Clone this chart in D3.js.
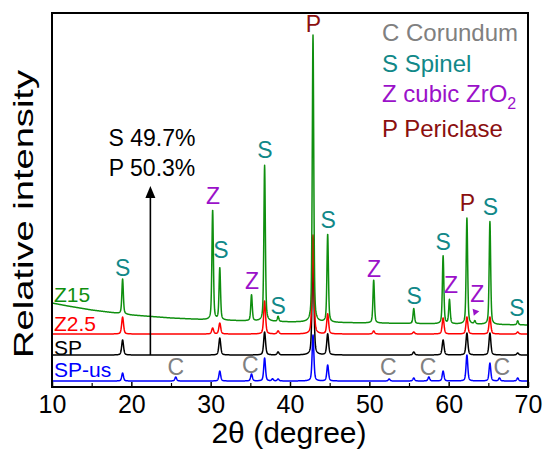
<!DOCTYPE html>
<html>
<head>
<meta charset="utf-8">
<script src="https://cdn.jsdelivr.net/npm/d3@7"></script>
<style>
  html, body { margin: 0; padding: 0; background: #fff; }
  svg { display: block; font-family: "Liberation Sans", Arial, sans-serif; }
</style>
</head>
<body>
<svg id="chart" width="545" height="450"></svg>
<script>
// ---------- data ----------
const seriesNames = ["Z15", "Z2.5", "SP", "SP-us"];
const seriesColors = ["#0f8f0f", "#ff0000", "#000000", "#0000ff"];

// background (baseline) of each pattern, relative intensity (a.u.)
const bgTheta = [10, 12, 15, 20, 25, 30, 40, 50, 60, 70];
const bgZ15   = [84, 81, 77, 72, 69, 67, 65, 64, 63, 62];
const bgZ25   = [53, 53, 53, 53, 53, 53, 53, 53, 53, 53];
const bgSP    = [32, 32, 32, 32, 32, 32, 32, 32, 32, 32];
const bgSPus  = [6, 6, 6, 6, 6, 6, 6, 6, 6, 6];

// peak positions (2θ) and net heights (a.u.)
const pkZ15Theta  = [18.9, 30.25, 31.15, 35.15, 36.8, 38.5, 42.9, 44.75, 50.55, 55.6, 59.3, 60.1, 62.3, 63.3, 65.2, 68.7];
const pkZ15Height = [35, 110, 52, 26, 156, 5, 287, 88, 43, 15, 68, 24, 106, 3, 103, 4];

const pkZ25Theta  = [18.9, 30.25, 31.15, 36.8, 38.5, 42.9, 44.75, 50.55, 55.6, 59.3, 62.3, 65.2, 68.7];
const pkZ25Height = [17, 6, 11, 33, 3, 99, 20, 3, 2, 16, 17, 17, 2];

const pkSPTheta   = [18.9, 31.15, 36.8, 38.5, 42.9, 44.75, 55.6, 59.3, 62.3, 65.2, 68.7];
const pkSPHeight  = [15, 17, 23, 3, 100, 21, 3, 15, 22, 22, 2];

const pkSPusTheta  = [18.9, 25.6, 31.15, 35.15, 36.8, 37.8, 38.5, 42.9, 44.75, 52.5, 55.6, 57.5, 59.3, 62.3, 65.2, 66.4, 68.7];
const pkSPusHeight = [8, 4, 10, 7, 23, 2, 2, 46, 16, 2, 3, 4, 10, 26, 18, 3, 3];

// phase marker labels: letter, 2θ, label baseline level (a.u.)
const markLetter = ["S", "Z", "S", "Z", "S", "S", "P", "S", "Z", "S", "S", "Z", "P", "Z", "S", "S",
                    "C", "C", "C", "C", "C"];
const markTheta  = [18.9, 30.3, 31.3, 35.2, 36.85, 38.5, 42.95, 44.8, 50.6, 55.65, 59.3, 60.3, 62.35, 63.6, 65.25, 68.6,
                    25.6, 35.0, 52.4, 57.4, 66.7];
const markLevel  = [111, 183, 129, 98, 229, 73, 355, 159, 110, 83, 137, 94, 176, 85, 172, 71,
                    12, 14, 12, 12, 12];

const legendLetter = ["C", "S", "Z", "P"];
const legendName   = ["Corundum", "Spinel", "cubic ZrO", "Periclase"];
const legendSub    = ["", "", "2", ""];

const phaseColor = { C: "#808080", S: "#118888", Z: "#9b11c9", P: "#8b0f0f" };

const composition = ["S 49.7%", "P 50.3%"];
const arrowTheta = 22.4;
const arrowFrom = 32, arrowTo = 201;

const xTicksMajor = [10, 20, 30, 40, 50, 60, 70];
const xTicksMinor = [15, 25, 35, 45, 55, 65];

// ---------- chart ----------
const svg = d3.select("#chart");
const L = 52, R = 528, T = 13, B = 387;
const x = d3.scaleLinear().domain([10, 70]).range([L, R]);
const y = d3.scaleLinear().domain([0, 374]).range([B, T]);

const bgs = [bgZ15, bgZ25, bgSP, bgSPus];
const pkT = [pkZ15Theta, pkZ25Theta, pkSPTheta, pkSPusTheta];
const pkH = [pkZ15Height, pkZ25Height, pkSPHeight, pkSPusHeight];
const widths = [0.11, 0.14, 0.14, 0.13];

const grid = d3.range(10, 70.0001, 0.02);
function profile(i) {
  const bgI = d3.scaleLinear().domain(bgTheta).range(bgs[i]);
  const w = widths[i];
  return grid.map(t => {
    let v = bgI(t);
    pkT[i].forEach((p, k) => {
      const u = (t - p) / w;
      v += pkH[i][k] * (0.45 / (1 + u * u) + 0.55 * Math.exp(-Math.LN2 * u * u));
    });
    return [t, v];
  });
}

const line = d3.line().x(d => x(d[0])).y(d => y(d[1]));

[3, 2, 1, 0].forEach(i => {
  svg.append("path")
    .datum(profile(i))
    .attr("fill", "none")
    .attr("stroke", seriesColors[i])
    .attr("stroke-width", 1.5)
    .attr("stroke-linejoin", "round")
    .attr("d", line);
});

// frame
svg.append("rect")
  .attr("x", L).attr("y", T).attr("width", R - L).attr("height", B - T)
  .attr("fill", "none").attr("stroke", "#000").attr("stroke-width", 2);

// x axis (ticks inward)
const xAxis = d3.axisBottom(x).tickValues(xTicksMajor).tickSize(-5).tickPadding(8).tickFormat(d3.format("d"));
const gx = svg.append("g").attr("transform", `translate(0,${B})`).call(xAxis);
gx.select(".domain").remove();
gx.selectAll(".tick line").attr("stroke-width", 1.5);
gx.selectAll(".tick text").attr("font-size", 25).attr("font-family", "Liberation Sans, Arial, sans-serif").attr("fill", "#000");
const gxm = svg.append("g").attr("transform", `translate(0,${B})`)
  .call(d3.axisBottom(x).tickValues(xTicksMinor).tickSize(-4).tickFormat(""));
gxm.select(".domain").remove();
gxm.selectAll(".tick line").attr("stroke-width", 1.2);

// axis titles
svg.append("text")
  .attr("x", 289).attr("y", 443)
  .attr("text-anchor", "middle").attr("font-size", 30).attr("fill", "#000")
  .text("2θ (degree)");

svg.append("text")
  .attr("transform", "translate(33,214) rotate(-90)")
  .attr("text-anchor", "middle").attr("font-size", 28)
  .attr("textLength", 288).attr("lengthAdjust", "spacingAndGlyphs")
  .attr("fill", "#000")
  .text("Relative intensity");

// series labels
const seriesLabelY = [302, 331, 355, 377];
seriesNames.forEach((s, i) => {
  svg.append("text")
    .attr("x", L + 2).attr("y", seriesLabelY[i])
    .attr("font-size", 21).attr("fill", seriesColors[i])
    .text(s);
});

// phase markers
markLetter.forEach((m, i) => {
  svg.append("text")
    .attr("x", x(markTheta[i])).attr("y", y(markLevel[i]))
    .attr("text-anchor", "middle").attr("font-size", 23)
    .attr("fill", phaseColor[m])
    .text(m);
});

// small arrowhead under the Z at ~63°
svg.append("path")
  .attr("d", d3.symbol(d3.symbolTriangle, 22)())
  .attr("transform", `translate(${x(63.35)},${y(75)}) rotate(200)`)
  .attr("fill", phaseColor.Z);

// legend
legendLetter.forEach((c, i) => {
  const t = svg.append("text")
    .attr("x", 382).attr("y", [41, 72, 102, 137][i])
    .attr("font-size", 24).attr("fill", phaseColor[c]);
  t.append("tspan").text(c + " " + legendName[i]);
  if (legendSub[i]) t.append("tspan").attr("dy", 7).attr("font-size", 16).text(legendSub[i]);
});

// composition annotation + arrow
composition.forEach((s, i) => {
  svg.append("text")
    .attr("x", 152).attr("y", [146, 176][i])
    .attr("text-anchor", "middle").attr("font-size", 23).attr("fill", "#000")
    .text(s);
});
svg.append("line")
  .attr("x1", x(arrowTheta)).attr("x2", x(arrowTheta))
  .attr("y1", y(arrowFrom)).attr("y2", y(arrowTo - 8))
  .attr("stroke", "#000").attr("stroke-width", 1.6);
svg.append("path")
  .attr("d", `M${x(arrowTheta)},${y(arrowTo)} l-5,12 l10,0 Z`)
  .attr("fill", "#000");
</script>
</body>
</html>
